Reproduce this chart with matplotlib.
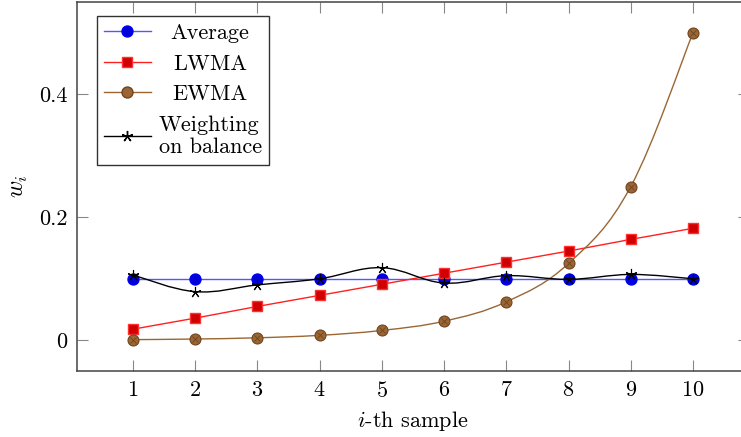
import numpy as np
import matplotlib
matplotlib.use("Agg")
import matplotlib.pyplot as plt
from matplotlib.path import Path
import matplotlib.patches as patches
from matplotlib.lines import Line2D

plt.rcParams['font.family'] = 'serif'
plt.rcParams['font.serif'] = ['cmr10']
plt.rcParams['mathtext.fontset'] = 'cm'
plt.rcParams['axes.formatter.use_mathtext'] = True

# ---data----------------------------------------------------------------
samples = [1, 2, 3, 4, 5, 6, 7, 8, 9, 10]
average = [0.1, 0.1, 0.1, 0.1, 0.1, 0.1, 0.1, 0.1, 0.1, 0.1]
lwma = [0.018, 0.036, 0.055, 0.073, 0.091, 0.109, 0.127, 0.145, 0.164, 0.182]
ewma = [0.001, 0.002, 0.004, 0.008, 0.016, 0.031, 0.0625, 0.125, 0.25, 0.5]
balance = [0.106, 0.079, 0.090, 0.100, 0.118, 0.093, 0.105, 0.099, 0.107, 0.100]

xticks = [1, 2, 3, 4, 5, 6, 7, 8, 9, 10]
yticks = [0, 0.2, 0.4]
ytick_labels = ['0', '0.2', '0.4']

brown = '#9b6633'
brown_dark = '#6e4520'


#---smooth curve through points (like pgfplots "smooth")---------------
def smooth_path(x, y, tension=0.55):
    p = np.column_stack([x, y]).astype(float)
    n = len(p)
    verts = [p[0]]
    codes = [Path.MOVETO]
    k = tension / 3.0
    for i in range(n - 1):
        prev = p[i - 1] if i > 0 else p[i]
        nxt = p[i + 2] if i + 2 < n else p[i + 1]
        c1 = p[i] + k * (p[i + 1] - prev)
        c2 = p[i + 1] - k * (nxt - p[i])
        verts += [c1, c2, p[i + 1]]
        codes += [Path.CURVE4] * 3
    return Path(verts, codes)


fig = plt.figure(figsize=(7.41, 4.37), dpi=100)
ax = fig.add_axes([77 / 741, 66 / 437, 672 / 741, 369 / 437])

# Average
ax.plot(samples, average, color='#5555ff', lw=1.0, zorder=2)
ax.plot(samples, average, ls='none', marker='o', ms=7.9, mfc='#0000dd',
        mec='#0000ee', zorder=3)

# LWMA
ax.plot(samples, lwma, color='#ff2020', lw=1.0, zorder=2)
ax.plot(samples, lwma, ls='none', marker='s', ms=7.3, mfc='#d00000',
        mec='#ff3030', zorder=3)

# EWMA
ax.add_patch(patches.PathPatch(smooth_path(samples, ewma), fill=False,
                               ec=brown, lw=1.0, zorder=2))
ax.plot(samples, ewma, ls='none', marker='o', ms=7.9, mfc=brown,
        mec=brown_dark, mew=0.8, zorder=3)
ax.plot(samples, ewma, ls='none', marker='x', ms=5.0, mec=brown_dark,
        mew=0.6, zorder=4)

# Weighting on balance
ax.add_patch(patches.PathPatch(smooth_path(samples, balance), fill=False,
                               ec='black', lw=1.0, zorder=5))
ax.plot(samples, balance, ls='none', marker=(5, 2, 0), ms=8, mec='black',
        mew=0.8, zorder=6)

ax.set_xlim(0.1, 10.9)
ax.set_ylim(-0.05, 0.55)
ax.set_xticks(xticks)
ax.set_yticks(yticks)
ax.set_yticklabels(ytick_labels)
ax.tick_params(direction='in', length=8, width=0.8, color='#888888',
               labelsize=16, top=True, right=True, pad=7)
for s in ax.spines.values():
    s.set_color('#444444')
    s.set_linewidth(1.1)

ax.set_xlabel('$i$-th sample', fontsize=16, labelpad=6)
ax.set_ylabel('$w_i$', fontsize=17, labelpad=6)

handles = [
    Line2D([], [], color='#5555ff', lw=1.0, marker='o', ms=7.9,
           mfc='#0000dd', mec='#0000ee'),
    Line2D([], [], color='#ff2020', lw=1.0, marker='s', ms=7.3,
           mfc='#d00000', mec='#ff3030'),
    Line2D([], [], color=brown, lw=1.0, marker='o', ms=7.9,
           mfc=brown, mec=brown_dark),
    Line2D([], [], color='black', lw=1.0, marker=(5, 2, 0), ms=8,
           mec='black'),
]
labels = ['Average', 'LWMA', 'EWMA', 'Weighting\non balance']
leg = ax.legend(handles, labels, loc='upper left', fontsize=16,
                bbox_to_anchor=(0.0295, 0.962), frameon=True, fancybox=False,
                edgecolor='#333333', framealpha=1, handlelength=2.1,
                handletextpad=0.35, borderpad=0.33, labelspacing=0.5,
                borderaxespad=0)
leg.get_frame().set_linewidth(1.0)
for t in leg.get_texts():
    t.set_multialignment('left')

# centre the label texts in their column, as pgfplots does
fig.canvas.draw()
renderer = fig.canvas.get_renderer()
widths = [t.get_window_extent(renderer).width for t in leg.get_texts()]
wmax = max(widths)
for t, w in zip(leg.get_texts(), widths):
    t.set_x((wmax - w) / 2)

fig.savefig('out.png', dpi=100)
